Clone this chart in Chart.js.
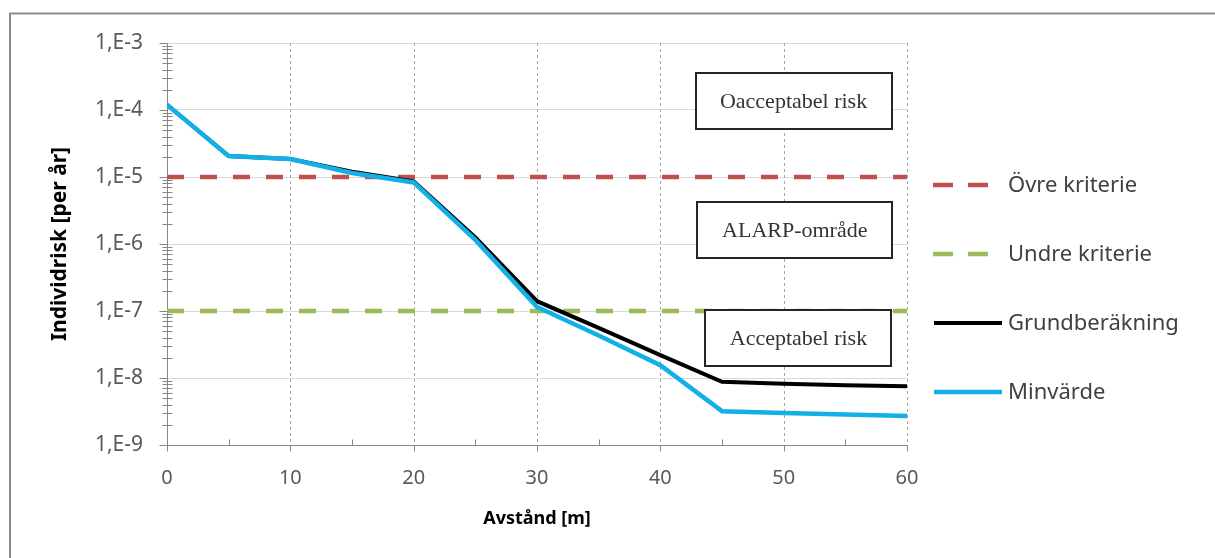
<!DOCTYPE html>
<html>
<head>
<meta charset="utf-8">
<script src="https://cdn.jsdelivr.net/npm/chart.js@4"></script>
<style>
  body { margin: 0; background: #fff; }
  canvas { display: block; }
</style>
</head>
<body>
<canvas id="riskChart" width="1215" height="558"></canvas>
<script>
// ==========
// chart data
// ==========
var distance = [0, 5, 10, 15, 20, 25, 30, 35, 40, 45, 50, 55, 60];
var grundberakning = [1.2e-4, 2.05e-5, 1.85e-5, 1.2e-5, 8.6e-6, 1.25e-6, 1.4e-7, 5.6e-8, 2.2e-8, 8.8e-9, 8.2e-9, 7.8e-9, 7.5e-9];
var minvarde = [1.2e-4, 2.05e-5, 1.85e-5, 1.15e-5, 8.3e-6, 1.15e-6, 1.15e-7, 4.3e-8, 1.55e-8, 3.2e-9, 3.0e-9, 2.85e-9, 2.7e-9];
var criteriaX = [0, 60];
var ovreKriterie = [1e-5, 1e-5];
var undreKriterie = [1e-7, 1e-7];
var yTicks = [1e-3, 1e-4, 1e-5, 1e-6, 1e-7, 1e-8, 1e-9];
var yTickLabels = ["1,E-3", "1,E-4", "1,E-5", "1,E-6", "1,E-7", "1,E-8", "1,E-9"];
var xTicks = [0, 10, 20, 30, 40, 50, 60];

// zone labels (anchored in data units)
var zoneText = ["Oacceptabel risk", "ALARP-område", "Acceptabel risk"];
var zoneX = [50.8, 50.9, 51.2];
var zoneY = [1.37e-4, 1.6e-6, 3.96e-8];

// helper: zip x/y arrays into points
function toPoints(xs, ys) {
    return xs.map(function (x, i) { return { x: x, y: ys[i] }; });
}

// ===============
// drawing helpers
// ===============
var zoneBox = { w: [196, 195, 186], h: 56 };

var extras = {
    id: "extras",
    beforeDraw: function (chart) {
        var ctx = chart.ctx;
        ctx.save();
        ctx.strokeStyle = "#8c8c8c";
        ctx.lineWidth = 2;
        ctx.strokeRect(10, 13.5, 1400, 700);
        ctx.restore();
    },
    beforeDatasetsDraw: function (chart) {
        var ctx = chart.ctx;
        var xs = chart.scales.x, ys = chart.scales.y;
        var area = chart.chartArea;
        ctx.save();
        // vertical dashed grid lines
        ctx.strokeStyle = "#a6a6a6";
        ctx.lineWidth = 1;
        ctx.setLineDash([3, 3]);
        xTicks.forEach(function (v) {
            if (v == 0) return;
            var px = Math.round(xs.getPixelForValue(v)) + 0.5;
            ctx.beginPath();
            ctx.moveTo(px, area.top);
            ctx.lineTo(px, area.bottom);
            ctx.stroke();
        });
        ctx.restore();
    },
    afterDatasetsDraw: function (chart) {
        var ctx = chart.ctx;
        var xs = chart.scales.x, ys = chart.scales.y;
        var axisX = Math.round(xs.getPixelForValue(0)) + 0.5;
        var axisY = Math.round(ys.getPixelForValue(1e-9)) + 0.5;
        ctx.save();
        ctx.strokeStyle = "#868686";
        ctx.lineWidth = 1;

        // y ticks: major to the left, minor across the axis
        for (var e = -9; e <= -3; e++) {
            var py = Math.round(ys.getPixelForValue(Math.pow(10, e))) + 0.5;
            ctx.beginPath();
            ctx.moveTo(axisX - 8, py);
            ctx.lineTo(axisX, py);
            ctx.stroke();
            if (e == -3) continue;
            for (var m = 2; m <= 9; m++) {
                var pm = Math.round(ys.getPixelForValue(m * Math.pow(10, e))) + 0.5;
                ctx.beginPath();
                ctx.moveTo(axisX - 5, pm);
                ctx.lineTo(axisX + 5, pm);
                ctx.stroke();
            }
        }

        // x ticks: major below, minor above
        for (var d = 0; d <= 60; d += 5) {
            var px = Math.round(xs.getPixelForValue(d)) + 0.5;
            ctx.beginPath();
            if (d % 10 == 0) {
                ctx.moveTo(px, axisY);
                ctx.lineTo(px, axisY + 6);
            } else {
                ctx.moveTo(px, axisY - 6);
                ctx.lineTo(px, axisY);
            }
            ctx.stroke();
        }

        // zone boxes
        ctx.font = "22px 'Liberation Serif', 'Times New Roman', serif";
        ctx.textAlign = "center";
        ctx.textBaseline = "middle";
        zoneText.forEach(function (t, i) {
            var cx = xs.getPixelForValue(zoneX[i]);
            var cy = ys.getPixelForValue(zoneY[i]);
            var w = zoneBox.w[i], h = zoneBox.h;
            var x0 = Math.round(cx - w / 2), y0 = Math.round(cy - h / 2);
            ctx.fillStyle = "#fff";
            ctx.fillRect(x0, y0, w, h);
            ctx.strokeStyle = "#262626";
            ctx.lineWidth = 2;
            ctx.strokeRect(x0, y0, w, h);
            ctx.fillStyle = "#333";
            ctx.fillText(t, cx, cy + 1);
        });
        ctx.restore();
    },
    afterDraw: function (chart) {
        // custom legend on the right
        var ctx = chart.ctx;
        var order = [2, 3, 1, 0];
        ctx.save();
        ctx.font = "22px 'Noto Sans', sans-serif";
        ctx.textAlign = "left";
        ctx.textBaseline = "middle";
        order.forEach(function (di, k) {
            var ds = chart.data.datasets[di];
            var y = 185 + k * 69;
            ctx.strokeStyle = ds.borderColor;
            ctx.lineWidth = ds.borderWidth;
            if (ds.borderDash) {
                ctx.setLineDash([20, 15]);
                ctx.beginPath();
                ctx.moveTo(933, y);
                ctx.lineTo(989, y);
                ctx.stroke();
                ctx.setLineDash([]);
            } else {
                ctx.beginPath();
                ctx.moveTo(934, y);
                ctx.lineTo(1002, y);
                ctx.stroke();
            }
            ctx.fillStyle = "#404040";
            ctx.fillText(ds.label, 1008, y + 1);
        });
        ctx.restore();
    }
};

// =====
// chart
// =====
var ctx = document.getElementById("riskChart");

var riskChart = new Chart(ctx, {
    type: "line",
    data: {
        datasets: [
            {
                label: "Minvärde",
                data: toPoints(distance, minvarde),
                borderColor: "#13b0e8",
                borderWidth: 4.5,
                pointRadius: 0,
                tension: 0,
                order: 0
            },
            {
                label: "Grundberäkning",
                data: toPoints(distance, grundberakning),
                borderColor: "#000000",
                borderWidth: 4,
                pointRadius: 0,
                tension: 0,
                order: 1
            },
            {
                label: "Övre kriterie",
                data: toPoints(criteriaX, ovreKriterie),
                borderColor: "#c0504d",
                borderWidth: 4.5,
                borderDash: [17, 16],
                pointRadius: 0,
                order: 2
            },
            {
                label: "Undre kriterie",
                data: toPoints(criteriaX, undreKriterie),
                borderColor: "#9bbb59",
                borderWidth: 4.5,
                borderDash: [17, 16],
                pointRadius: 0,
                order: 3
            }
        ]
    },
    options: {
        responsive: false,
        animation: false,
        events: [],
        layout: { padding: { left: 40, right: 308, top: 43, bottom: 0 } },
        plugins: {
            legend: { display: false },
            tooltip: { enabled: false }
        },
        scales: {
            x: {
                type: "linear",
                min: 0,
                max: 60,
                afterBuildTicks: function (scale) {
                    scale.ticks = xTicks.map(function (v) { return { value: v }; });
                },
                ticks: {
                    color: "#595959",
                    font: { family: "'Noto Sans', sans-serif", size: 20 },
                    padding: 21,
                    maxRotation: 0
                },
                grid: { display: false, drawTicks: false },
                border: { display: true, color: "#868686", width: 1 },
                title: {
                    display: true,
                    text: "Avstånd [m]",
                    color: "#000",
                    font: { family: "'Noto Sans', sans-serif", size: 18, weight: "bold" },
                    padding: { top: 0, bottom: 28 }
                },
                afterFit: function (scale) { scale.height = 113; }
            },
            y: {
                type: "logarithmic",
                min: 1e-9,
                max: 1e-3,
                afterBuildTicks: function (scale) {
                    scale.ticks = yTicks.map(function (v) { return { value: v }; });
                },
                ticks: {
                    color: "#595959",
                    font: { family: "'Noto Sans', sans-serif", size: 21 },
                    padding: 24,
                    callback: function (value) {
                        var i = yTicks.findIndex(function (t) { return Math.abs(Math.log10(t) - Math.log10(value)) < 1e-6; });
                        return i >= 0 ? yTickLabels[i] : "";
                    }
                },
                grid: { color: "#d9d9d9", drawTicks: false },
                border: { display: true, color: "#868686", width: 1 },
                title: {
                    display: true,
                    text: "Individrisk [per år]",
                    color: "#000",
                    font: { family: "'Noto Sans', sans-serif", size: 21, weight: "bold" },
                    padding: { top: 7, bottom: 0 }
                },
                afterFit: function (scale) { scale.width = 127; }
            }
        }
    },
    plugins: [extras]
});
</script>
</body>
</html>
